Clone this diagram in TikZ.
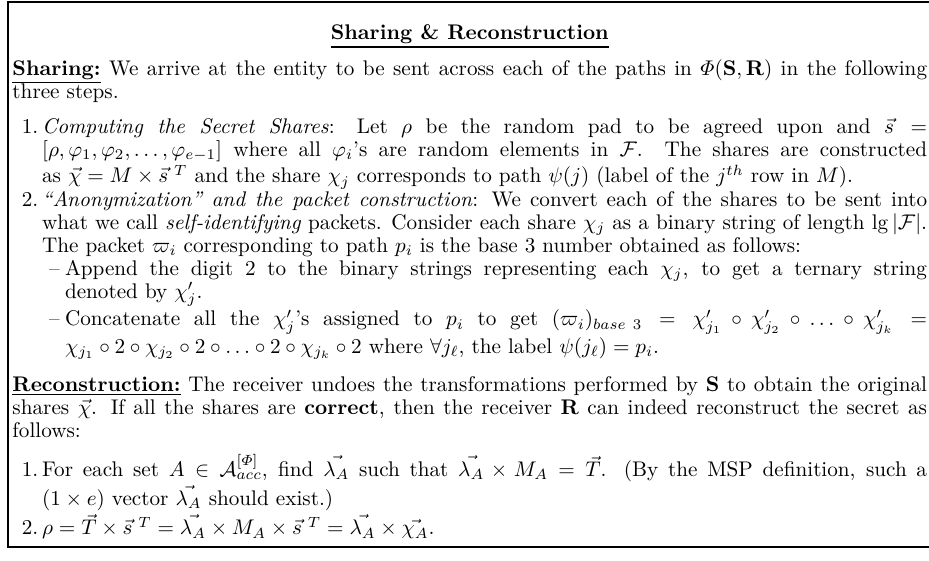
\documentclass[tikz,border=0pt]{standalone}
\usepackage{amsmath,amssymb}
\usepackage{enumitem}
\setlist[enumerate,1]{label=\arabic*., leftmargin=14pt, labelsep=1.8pt, topsep=7.5pt, itemsep=0pt, parsep=0pt, partopsep=0pt}
\setlist[itemize,1]{label=--, leftmargin=10.8pt, labelsep=2.5pt, topsep=0pt, itemsep=0pt, parsep=0pt, partopsep=0pt}
\setlist[itemize,2]{label=--, leftmargin=10.8pt, labelsep=2.5pt, topsep=0pt, itemsep=0pt, parsep=0pt, partopsep=0pt}
% s-vector with a spaced transpose mark
\newcommand{\sT}{\vec{s}\;{}^{T}}
% heading underline, a little heavier than \underline
\newcommand{\headul}[1]{\setbox0=\hbox{#1}\leavevmode
  \rlap{\vrule height -\dimexpr\dp0+1.1pt\relax depth \dimexpr\dp0+1.8pt\relax width \wd0}\box0\relax}
\begin{document}
\begin{tikzpicture}[x=1pt,y=1pt,
  frameline/.style={line width=0.9pt, black},
  textblock/.style={inner sep=0pt, outer sep=0pt, text width=431.9pt, align=justify,
    font=\fontsize{10pt}{10.9pt}\selectfont}]
\useasboundingbox (0,0) rectangle (438.7,-264.9);
% open frame: top, left and bottom rules
\coordinate (tr) at (439.5,-0.95);
\coordinate (tl) at (3.8,-0.95);
\coordinate (bl) at (3.8,-258.3);
\coordinate (br) at (439.5,-258.3);
\draw[frameline] (tr) -- (tl) -- (bl) -- (br);
% the boxed text
\node[textblock, anchor=base west] (body) at (5.9,-18.8) {\lineskip=1.5pt\relax
{\centering\headul{\textbf{Sharing \& Reconstruction}}\par}\vspace{4pt}%
\noindent\headul{\textbf{Sharing:}} We arrive at the entity to be sent across each of the paths in $\varPhi(\mathbf{S},\mathbf{R})$ in the following\linebreak three steps.
\begin{enumerate}[topsep=5.6pt]
\item \emph{Computing the Secret Shares}: Let $\rho$ be the random pad to be agreed upon and $\vec{s} =$\linebreak $[\rho, \varphi_1, \varphi_2, \ldots, \varphi_{e-1}]$ where all $\varphi_i$'s are random elements in $\mathcal{F}$. The shares are constructed\linebreak as $\vec{\chi} = M \times \sT$ and the share $\chi_j$ corresponds to path $\psi(j)$ (label of the $j^{th}$ row in $M$).
\item \emph{``Anonymization'' and the packet construction}: We convert each of the shares to be sent into\linebreak what we call \emph{self-identifying} packets. Consider each share $\chi_j$ as a binary string of length $\lg|\mathcal{F}|$.\linebreak The packet $\varpi_i$ corresponding to path $p_i$ is the base 3 number obtained as follows:
\begin{itemize}
\item Append the digit 2 to the binary strings representing each $\chi_j$, to get a ternary string\linebreak denoted by $\chi'_j$.
\item Concatenate all the $\chi'_j$'s assigned to $p_i$ to get $(\varpi_i)_{base\ 3} = \chi'_{j_1} \circ \chi'_{j_2} \circ \ldots \circ \chi'_{j_k} =$\linebreak $\chi_{j_1} \circ 2 \circ \chi_{j_2} \circ 2 \circ \ldots \circ 2 \circ \chi_{j_k} \circ 2$ where $\forall j_\ell$, the label $\psi(j_\ell) = p_i$.
\end{itemize}
\end{enumerate}
\vspace{1.5pt}
\noindent\headul{\textbf{Reconstruction:}} The receiver undoes the transformations performed by $\mathbf{S}$ to obtain the original\linebreak shares $\vec{\chi}$. If all the shares are \textbf{correct}, then the receiver $\mathbf{R}$ can indeed reconstruct the secret as\linebreak follows:
\begin{enumerate}
\item For each set $A \in \mathcal{A}^{[\varPhi]}_{acc}$, find $\vec{\lambda_A}$ such that $\vec{\lambda_A} \times M_A = \vec{T}$. (By the MSP definition, such a\linebreak $(1 \times e)$ vector $\vec{\lambda_A}$ should exist.)
\item $\rho = \vec{T} \times \sT = \vec{\lambda_A} \times M_A \times \sT = \vec{\lambda_A} \times \vec{\chi_A}$.
\end{enumerate}
};
\end{tikzpicture}
\end{document}
